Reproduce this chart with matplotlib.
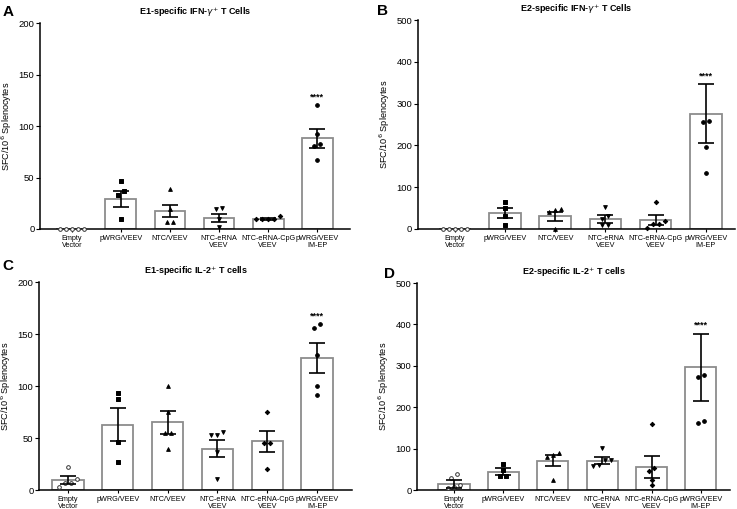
import numpy as np
import matplotlib.pyplot as plt

plt.rcParams['font.family'] = ['Liberation Sans', 'DejaVu Sans']

categories = ["Empty\nVector", "pWRG/VEEV", "NTC/VEEV", "NTC-eRNA\nVEEV",
              "NTC-eRNA-CpG\nVEEV", "pWRG/VEEV\nIM-EP"]
markers = ["o", "s", "^", "v", "D", "o"]

# --- panel A: E1 IFN-g ---
a_title = "E1-specific IFN-$\\gamma^{+}$ T Cells"
a_means = [0, 29, 17.4, 10.3, 9.7, 87.9]
a_sems = [0, 7.6, 5.8, 3.9, 0.6, 9.0]
a_points = [[0, 0, 0, 0, 0],
            [46.5, 37, 33, 9.7],
            [38.4, 19.4, 6.5, 6.5],
            [20, 19, 10, 1.6],
            [12.6, 9.7, 9.7, 9.7, 9.7],
            [120, 92, 82.4, 80.8, 66.6]]
a_ymax, a_ystep = 200, 50

# --- panel B: E2 IFN-g ---
b_title = "E2-specific IFN-$\\gamma^{+}$ T Cells"
b_means = [0, 38.5, 30, 24.5, 22, 276]
b_sems = [0, 11.5, 10, 9, 11.5, 70]
b_points = [[0, 0, 0, 0, 0],
            [65, 51, 31, 9],
            [48, 45, 40, 0],
            [53, 31, 25, 10, 10],
            [65, 20, 11, 11, 2],
            [259, 257, 195, 134]]
b_ymax, b_ystep = 500, 100

# --- panel C: E1 IL-2 ---
c_title = "E1-specific IL-2$^{+}$ T cells"
c_means = [9.6, 63, 65, 39.7, 47, 127]
c_sems = [3.6, 16.3, 10.7, 8.3, 10.1, 14]
c_points = [[22.4, 10.9, 6.4, 6.4, 2.6],
            [93.4, 87.4, 46, 27],
            [99.8, 75, 54.4, 54.4, 39],
            [56, 52.5, 52.5, 36.5, 10.2],
            [75.2, 44.8, 44.8, 19.8],
            [159.4, 156, 130, 100.5, 90.9]]
c_ymax, c_ystep = 200, 50

# --- panel D: E2 IL-2 ---
d_title = "E2-specific IL-2$^{+}$ T cells"
d_means = [15, 44, 71, 71, 56.5, 296]
d_sems = [10, 8, 12.9, 8, 26.6, 81.5]
d_points = [[38, 28, 12, 8, 4],
            [62, 48.4, 34, 34],
            [88.7, 85.5, 80.6, 24],
            [102, 72.6, 72.6, 60.5, 58.9],
            [159, 52.4, 46, 24, 11],
            [276.6, 273, 166, 162]]
d_ymax, d_ystep = 500, 100


def spread(vals, tol, step=0.12):
    """Horizontal offsets so points with similar values sit side by side."""
    vals = np.asarray(vals, dtype=float)
    order = np.argsort(vals)
    offs = np.zeros(len(vals))
    groups, cur = [], [order[0]]
    for i in order[1:]:
        if abs(vals[i] - vals[cur[-1]]) < tol:
            cur.append(i)
        else:
            groups.append(cur)
            cur = [i]
    groups.append(cur)
    for g in groups:
        n = len(g)
        offs[g] = (np.arange(n) - (n - 1) / 2) * step
    return offs


def draw_panel(ax, title, means, sems, points, ymax, ystep, xlim, letter, letter_xy, fig):
    x = np.arange(len(categories))
    ax.bar(x, means, width=0.63, color="white", edgecolor="#8c8c8c",
           linewidth=1.3, zorder=1)
    for i, pts in enumerate(points):
        offs = spread(pts, tol=ymax * 0.025)
        hollow = i == 0
        ax.scatter(x[i] + offs, pts, marker=markers[i],
                   s=7 if markers[i] != "D" else 5,
                   facecolor="white" if hollow else "black",
                   edgecolor="black" if not hollow else "#333333",
                   linewidth=0.7, zorder=3, clip_on=False)
    nz = [i for i in range(len(means)) if means[i] > 0]
    ax.errorbar(x[nz], np.array(means)[nz], yerr=np.array(sems)[nz], fmt="none",
                ecolor="black", elinewidth=1.2, capsize=6, capthick=1.2, zorder=4)
    # significance stars over the last group
    top = max(means[-1] + sems[-1], max(points[-1]))
    ax.text(x[-1], top + ymax * 0.02, "****", ha="center", va="bottom",
            fontsize=6.5, fontweight="bold")

    ax.set_xlim(xlim)
    ax.set_ylim(0, ymax)
    ax.set_yticks(np.arange(0, ymax + 1, ystep))
    ax.set_xticks(x)
    ax.set_xticklabels(categories, fontsize=5.2, linespacing=1.0)
    ax.tick_params(axis="y", labelsize=6.8, length=3, width=0.8, pad=1)
    ax.tick_params(axis="x", length=2.5, width=0.8, pad=2)
    for s in ["top", "right"]:
        ax.spines[s].set_visible(False)
    for s in ["left", "bottom"]:
        ax.spines[s].set_linewidth(1.1)
    ax.set_ylabel("SFC/10$^6$ Splenocytes", fontsize=6.6, labelpad=3)
    ax.set_title(title, fontsize=6.5, fontweight="bold", pad=6)
    fig.text(letter_xy[0], letter_xy[1], letter, fontsize=11, fontweight="bold",
             ha="left", va="center")


fig = plt.figure(figsize=(7.37, 5.09), dpi=100)
ax_a = fig.add_axes([0.0543, 0.5501, 0.4206, 0.4047])
ax_b = fig.add_axes([0.567, 0.5501, 0.430, 0.4106])
ax_c = fig.add_axes([0.0529, 0.0373, 0.4247, 0.4086])
ax_d = fig.add_axes([0.5658, 0.0373, 0.4247, 0.4067])

draw_panel(ax_a, a_title, a_means, a_sems, a_points, a_ymax, a_ystep, (-0.65, 5.67),
           "A", (0.003, 0.976), fig)
draw_panel(ax_b, b_title, b_means, b_sems, b_points, b_ymax, b_ystep, (-0.74, 5.58),
           "B", (0.512, 0.978), fig)
draw_panel(ax_c, c_title, c_means, c_sems, c_points, c_ymax, c_ystep, (-0.58, 5.7),
           "C", (0.003, 0.478), fig)
draw_panel(ax_d, d_title, d_means, d_sems, d_points, d_ymax, d_ystep, (-0.75, 5.59),
           "D", (0.521, 0.462), fig)

fig.savefig("out.png", dpi=100)
